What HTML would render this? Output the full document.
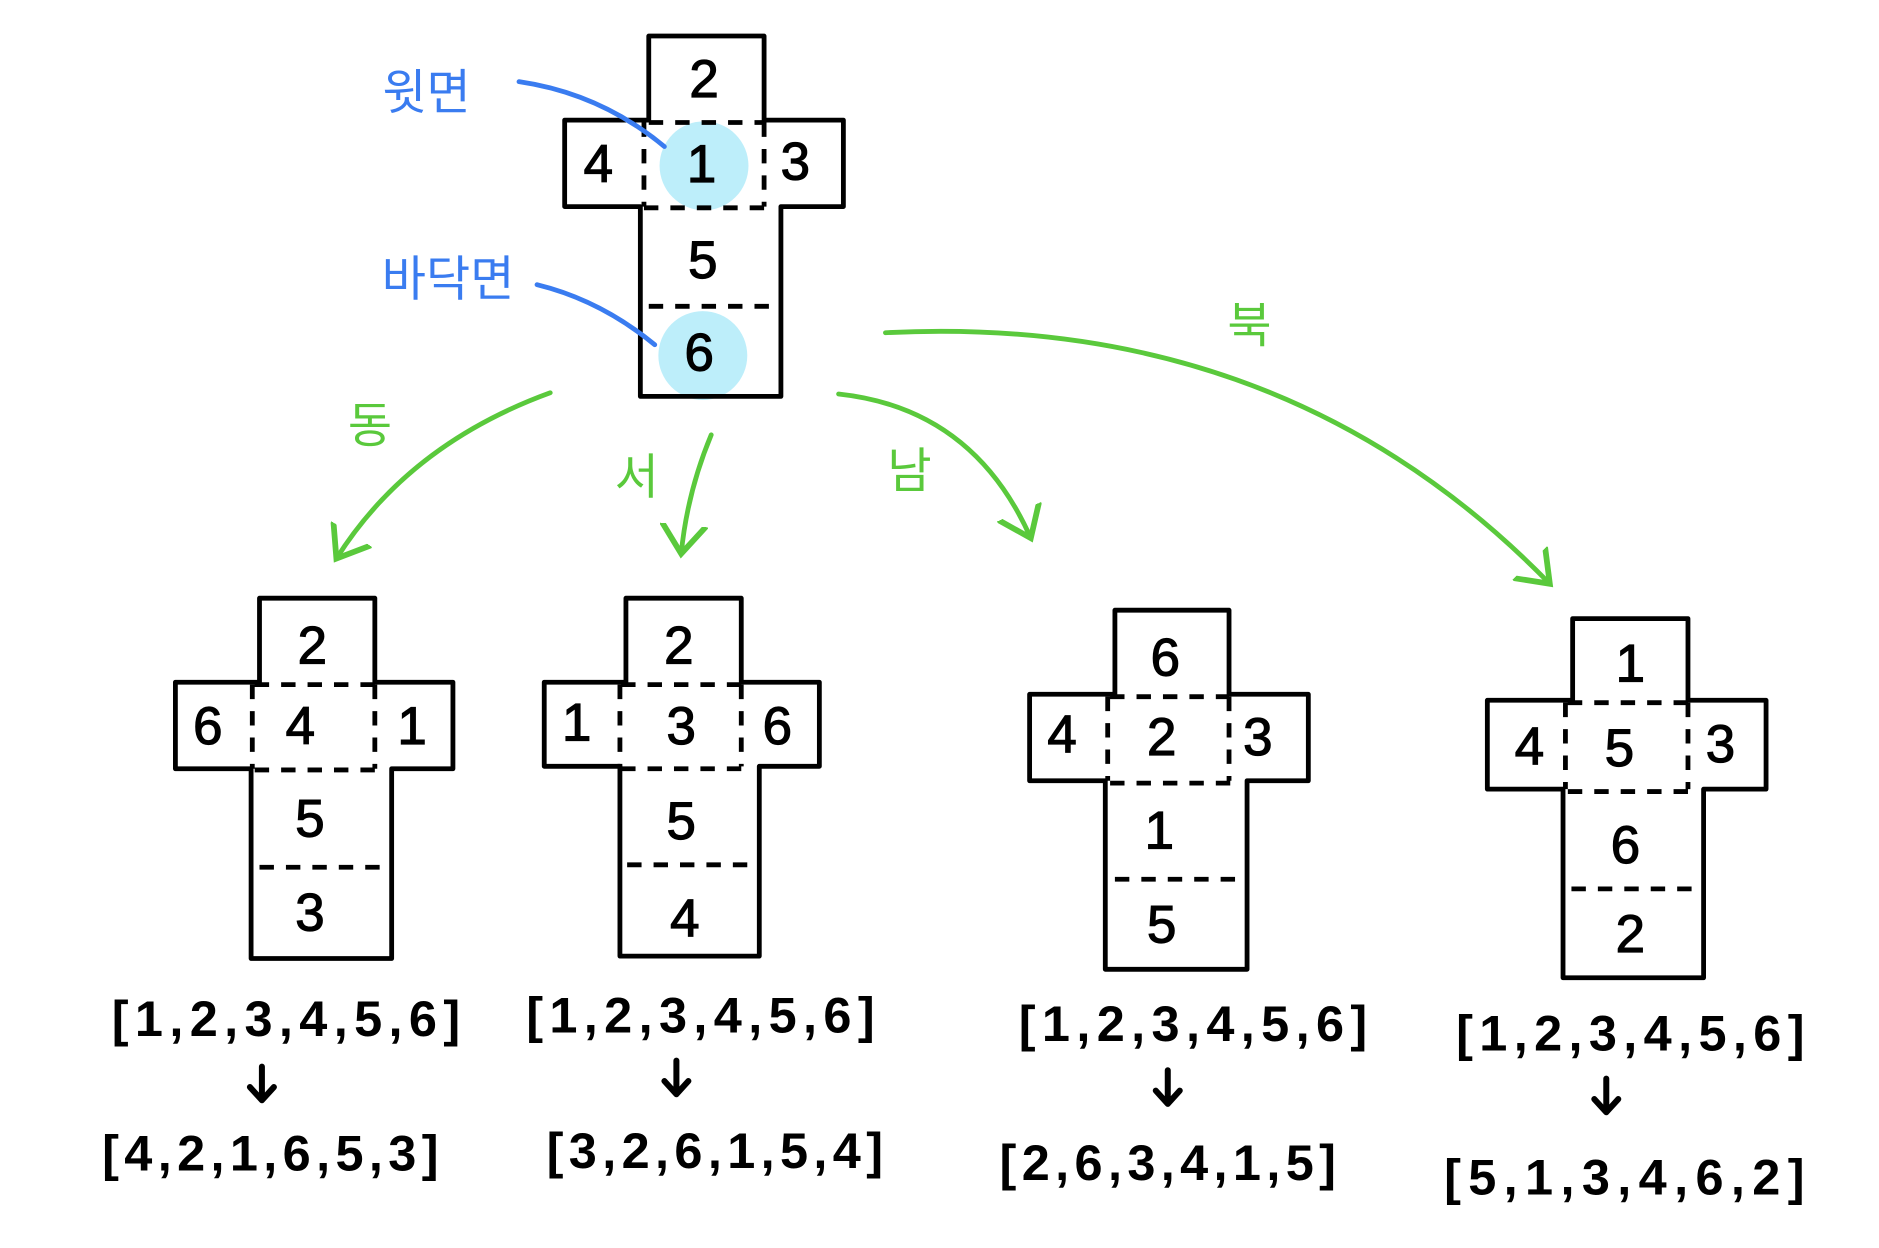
<!DOCTYPE html>
<html><head><meta charset="utf-8"><style>
html,body{margin:0;padding:0;background:#fff;}
svg{display:block;}
text{font-family:"Liberation Sans","Noto Sans CJK KR",sans-serif;text-anchor:middle;dominant-baseline:central;}
</style></head><body>
<svg width="1879" height="1248" viewBox="0 0 1564 1039" preserveAspectRatio="none" xmlns="http://www.w3.org/2000/svg">
<defs>
<marker id="ah" markerWidth="10" markerHeight="10" refX="6" refY="5" orient="auto" markerUnits="strokeWidth">
<path d="M0,0.5 L6,5 L0,9.5" fill="none" stroke="#5ac93c" stroke-width="1.2" stroke-linecap="round"/>
</marker>
</defs>
<g fill="#bdeefa">
<circle cx="586" cy="138" r="37"/>
<circle cx="585" cy="296" r="37"/>
</g>
<g fill="none" stroke="#000" stroke-width="4" stroke-linejoin="round">
<path d="M540,100 V30 H636 V100 H702 V172 H650 V330 H533 V172 H470 V100 Z"/>
<path d="M216,568 V498 H312 V568 H377 V640 H326 V798 H209 V640 H146 V568 Z"/>
<path d="M521,568 V498 H617 V568 H682 V638 H632 V796 H516 V638 H453 V568 Z"/>
<path d="M928,578 V508 H1023 V578 H1089 V650 H1038 V807 H920 V650 H857 V578 Z"/>
<path d="M1309,583 V515 H1405 V583 H1470 V657 H1418 V814 H1301 V657 H1238 V583 Z"/>
</g>
<g fill="none" stroke="#000" stroke-width="4" stroke-dasharray="12,10">
<path d="M540,102 H636 M536,102 V172 M636,102 V172 M536,173 H640 M540,255 H643"/>
<path d="M212,570 H312 M210,570 V640 M312,570 V640 M212,641 H320 M216,722 H320"/>
<path d="M517,570 H617 M516,570 V638 M617,570 V638 M517,640 H626 M522,720 H626"/>
<path d="M924,580 H1023 M922,580 V650 M1023,580 V650 M924,652 H1030 M928,732 H1030"/>
<path d="M1305,585 H1405 M1303,585 V657 M1405,585 V657 M1305,659 H1410 M1308,740 H1410"/>
</g>
<g fill="none" stroke="#3a7cf0" stroke-width="4" stroke-linecap="round">
<path d="M432,68 Q500,78 553,122"/>
<path d="M447,237 Q500,250 545,287"/>
</g>
<g fill="#3a7cf0" font-size="40"><text x="355" y="78">윗면</text><text x="373" y="233">바닥면</text></g>
<g fill="none" stroke="#5ac93c" stroke-width="4" stroke-linecap="round" marker-end="url(#ah)">
<path d="M458,327 Q340,370 280,465"/>
<path d="M592,362 Q572,410 567,461"/>
<path d="M698,328 Q810,340 858,448"/>
<path d="M737,277 Q1070,260 1290,486"/>
</g>
<g fill="#5ac93c" font-size="40"><text x="308" y="355">동</text><text x="530" y="398">서</text><text x="757" y="393">남</text><text x="1040" y="272">북</text></g>
<g fill="#000" font-size="44" stroke="#000" stroke-width="1">
<text x="586" y="66">2</text><text x="498" y="137">4</text><text x="584" y="137">1</text><text x="662" y="135">3</text><text x="585" y="217">5</text><text x="582" y="294">6</text>
<text x="260" y="538">2</text><text x="173" y="605">6</text><text x="250" y="605">4</text><text x="343" y="605">1</text><text x="258" y="682">5</text><text x="258" y="760">3</text>
<text x="565" y="538">2</text><text x="480" y="602">1</text><text x="567" y="605">3</text><text x="647" y="605">6</text><text x="567" y="684">5</text><text x="570" y="765">4</text>
<text x="970" y="548">6</text><text x="884" y="612">4</text><text x="967" y="614">2</text><text x="1047" y="614">3</text><text x="965" y="692">1</text><text x="967" y="770">5</text>
<text x="1357" y="553">1</text><text x="1273" y="622">4</text><text x="1348" y="623">5</text><text x="1432" y="620">3</text><text x="1353" y="704">6</text><text x="1357" y="778">2</text>
</g>
<g fill="#000" font-size="42" font-weight="bold">
<text x="238" y="848" textLength="290">[1,2,3,4,5,6]</text><text x="225" y="960" textLength="280">[4,2,1,6,5,3]</text>
<text x="583" y="845" textLength="290">[1,2,3,4,5,6]</text><text x="595" y="958" textLength="280">[3,2,6,1,5,4]</text>
<text x="993" y="852" textLength="290">[1,2,3,4,5,6]</text><text x="972" y="968" textLength="280">[2,6,3,4,1,5]</text>
<text x="1357" y="860" textLength="290">[1,2,3,4,5,6]</text><text x="1352" y="980" textLength="300">[5,1,3,4,6,2]</text>
</g>
<g fill="none" stroke="#000" stroke-width="5" stroke-linecap="round" stroke-linejoin="round">
<path d="M218,888 V915 M208,905 L218,916 L228,905"/>
<path d="M563,883 V910 M553,900 L563,911 L573,900"/>
<path d="M972,891 V918 M962,908 L972,919 L982,908"/>
<path d="M1337,898 V925 M1327,915 L1337,926 L1347,915"/>
</g>
</svg>
</body></html>
